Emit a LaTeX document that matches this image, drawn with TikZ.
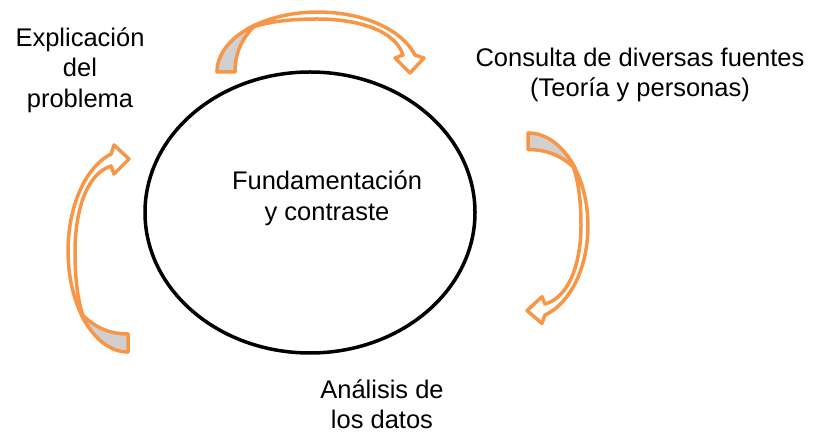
\documentclass[tikz,border=0pt]{standalone}
\usepackage{fontspec}
\setmainfont{Liberation Sans}
\usepackage{tikz}
\usetikzlibrary{positioning,shapes.geometric}

\definecolor{arroworange}{HTML}{F79646}
\definecolor{backgray}{HTML}{D0D0D0}

\tikzset{
  arrowline/.style={draw=arroworange, line width=3.5pt, line join=round},
  steplabel/.style={font=\fontsize{25.5}{30.5}\selectfont, align=center, inner sep=0pt}
}

\begin{document}
\begin{tikzpicture}[x=1pt,y=1pt]
  \useasboundingbox (0,0) rectangle (820,436);
  % curved arrow, tail at the origin, bending upwards
  \def\arrowback{(0,0) -- (18,0) .. controls (18,18) and (24,33) .. (38.8,47.3)
    arc[start angle=128, end angle=180, x radius=101, y radius=60] -- cycle}
  \def\arrowfront{(29.6,42.4) arc[start angle=135, end angle=16.4, x radius=101, y radius=60]
    -- (207,14) -- (193,-1) -- (178,14) -- (186,17)
    .. controls (178,42) and (140,53) .. (100,53)
    .. controls (68,53) and (44,49) .. (29.6,42.4) -- cycle}

  \node[draw, line width=3.5pt, ellipse, minimum width=330pt, minimum height=281pt] (fund) at (310,223.5) {};
  \node[steplabel] (fundtext) at (327,237.6) {Fundamentación\\y contraste};

  \node[steplabel] (expl) at (80,366) {Explicación\\del\\problema};
  \node[steplabel] (consulta) at (640,361) {Consulta de diversas fuentes\\(Teoría y personas)};
  \node[steplabel] (analisis) at (382,32) {Análisis de\\los datos};

  \foreach \px/\py/\ang/\len in {217/364/0/1, 528/303/-90/0.92, 128/84/90/1} {
    \begin{scope}[shift={(\px,\py)}, rotate=\ang, xscale=\len]
      \filldraw[arrowline, fill=backgray] \arrowback;
      \filldraw[arrowline, fill=white] \arrowfront;
    \end{scope}
  }
\end{tikzpicture}
\end{document}
